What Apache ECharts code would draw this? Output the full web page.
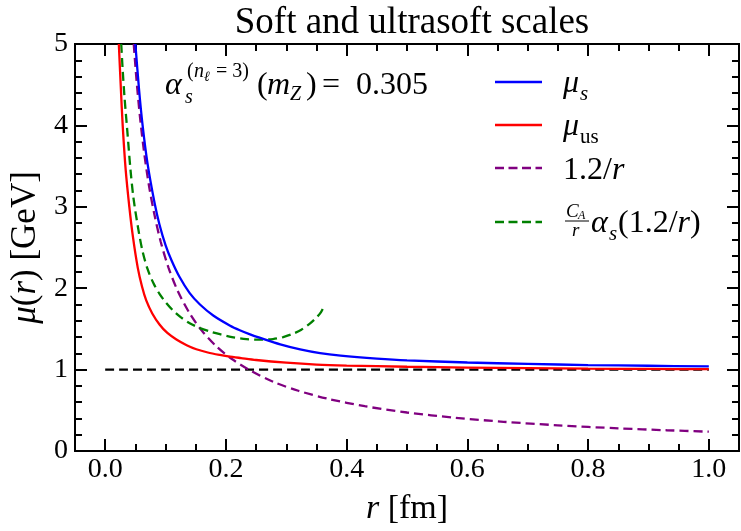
<!DOCTYPE html>
<html><head><meta charset="utf-8">
<script src="https://cdn.jsdelivr.net/npm/echarts@6/dist/echarts.min.js"></script>
<style>html,body{margin:0;padding:0;background:#fff}#c{width:741px;height:531px}</style>
</head><body><div id="c"></div>
<script>
// ---- data ----
const blueR  = [0.050,0.056,0.062,0.070,0.082,0.090,0.100,0.110,0.123,0.140,0.157,0.179,0.207,0.223,0.240,0.257,0.290,0.323,0.356,0.390,0.450,0.500,0.600,0.700,0.800,0.900,1.000];
const blueMu = [5.00,4.45,4.00,3.54,3.04,2.78,2.53,2.34,2.14,1.94,1.80,1.665,1.54,1.484,1.433,1.389,1.31,1.248,1.202,1.172,1.136,1.114,1.087,1.070,1.056,1.047,1.040];
const redR   = [0.0226,0.026,0.029,0.034,0.040,0.046,0.054,0.061,0.068,0.078,0.090,0.103,0.118,0.135,0.151,0.170,0.190,0.204,0.225,0.250,0.300,0.350,0.400,0.500,0.600,0.700,0.800,0.900,1.000];
const redMu  = [5.00,4.45,4.00,3.45,3.00,2.63,2.25,2.02,1.85,1.69,1.555,1.45,1.37,1.30,1.25,1.21,1.18,1.163,1.142,1.118,1.085,1.062,1.05,1.035,1.025,1.018,1.012,1.008,1.005];
const purpleR  = [0.0473,0.052,0.058,0.065,0.073,0.082,0.092,0.105,0.120,0.140,0.160,0.185,0.210,0.240,0.280,0.320,0.370,0.430,0.500,0.580,0.660,0.750,0.850,0.930,1.000];
const purpleMu = [5.00,4.55,4.08,3.64,3.24,2.89,2.57,2.25,1.97,1.69,1.48,1.28,1.13,0.99,0.845,0.74,0.64,0.55,0.473,0.408,0.359,0.316,0.278,0.255,0.237];
const greenR  = [0.0266,0.029,0.032,0.037,0.042,0.047,0.055,0.062,0.070,0.080,0.090,0.100,0.112,0.125,0.140,0.157,0.175,0.190,0.210,0.234,0.255,0.278,0.295,0.311,0.325,0.339,0.350,0.357,0.362];
const greenMu = [5.00,4.68,4.35,3.90,3.45,3.10,2.72,2.45,2.24,2.06,1.93,1.83,1.73,1.645,1.57,1.51,1.465,1.435,1.40,1.375,1.368,1.375,1.40,1.44,1.49,1.565,1.64,1.70,1.77];
const refR  = [0.0, 1.0];
const refMu = [1.0, 1.0];
const xMajorTicks = [0.0,0.2,0.4,0.6,0.8,1.0];
const xMinorTicks = [0.05,0.1,0.15,0.25,0.3,0.35,0.45,0.5,0.55,0.65,0.7,0.75,0.85,0.9,0.95];
const titleText = 'Soft and ultrasoft scales';

const zip = (a,b) => a.map((v,i)=>[v,b[i]]);
const SERIF = '"Liberation Serif", "Times New Roman", serif';
const chart = echarts.init(document.getElementById('c'), null, {renderer:'canvas'});

const axLine = {show:true, onZero:false, lineStyle:{color:'#000', width:2}};
function xAx(pos, ticks, len, labels){
  return {type:'value', position:pos, min:-0.05, max:1.05, gridIndex:0,
    axisLine: axLine, splitLine:{show:false},
    axisTick:{show:true, inside:true, length:len, customValues:ticks, lineStyle:{color:'#000', width:2}},
    axisLabel: labels ? {show:true, customValues:xMajorTicks, formatter:v=>v.toFixed(1), margin:5,
      fontFamily:SERIF, fontSize:28, color:'#000'} : {show:false}
  };
}
function yAx(pos, labels){
  return {type:'value', position:pos, min:0, max:5, interval:1, gridIndex:0,
    axisLine: axLine, splitLine:{show:false},
    axisTick:{show:true, inside:true, length:12, lineStyle:{color:'#000', width:2}},
    minorTick:{show:true, splitNumber:5, length:7, lineStyle:{color:'#000', width:2}},
    axisLabel: labels ? {show:true, margin:7, fontFamily:SERIF, fontSize:28, color:'#000'} : {show:false}
  };
}
const xa0 = xAx('bottom', xMajorTicks, 12, true);
xa0.name = '{i|r} [fm]';
xa0.nameLocation = 'middle';
xa0.nameGap = 41;
xa0.nameTextStyle = {fontFamily:SERIF, fontSize:34, color:'#000', rich:{i:{fontFamily:SERIF, fontSize:34, fontStyle:'italic', color:'#000'}}};
const ya0 = yAx('left', true);
ya0.name = '{i|μ}({i|r}) [GeV]';
ya0.nameLocation = 'middle';
ya0.nameGap = 30;
ya0.nameTextStyle = {fontFamily:SERIF, fontSize:35, color:'#000', rich:{i:{fontFamily:SERIF, fontSize:35, fontStyle:'italic', color:'#000'}}};

function line(data, color, dashed){
  return {type:'line', xAxisIndex:0, yAxisIndex:0, data:data, showSymbol:false, symbol:'none',
    smooth:0.3, clip:true, silent:true,
    lineStyle:{color:color, width:2.3, type: dashed ? [9,5] : 'solid'}};
}

function T(x,y,text,size,italic,extra){
  return Object.assign({type:'text', x:x, y:y, silent:true, style:{text:text, fontFamily:SERIF, fontSize:size,
    fontStyle: italic?'italic':'normal', fill:'#000', align:'left', verticalAlign:'middle'}}, extra||{});
}
function L(x1,x2,y,color,dashed){
  return {type:'line', silent:true, shape:{x1:x1,y1:y,x2:x2,y2:y}, style:{stroke:color, lineWidth:2.3, lineDash: dashed?[9,4.5]:null}};
}
const graphics = [
  // annotation  α_s^{(nℓ=3)}(m_Z) = 0.305
  T(165,86,'α',32,true),
  T(185,98,'s',20,true),
  T(187,72,'(',20,false), T(194,72,'n',20,true), T(204,77,'ℓ',14,true),
  T(216,72,'= 3)',20,false),
  T(257,86,'(',32,false), T(267,86,'m',32,true), T(290,95,'Z',20,true), T(306,86,')',32,false),
  T(322,86,'=',32,false), T(356,86,'0.305',32,false),
  // legend
  L(495,542,82,'#0000ff',false), T(563,84,'μ',32,true), T(580,94,'s',21,true),
  L(495,542,125,'#ff0000',false), T(563,127,'μ',32,true), T(580,137,'us',21,false),
  L(495,542,168,'#800080',true),
  {type:'text', x:563, y:171, silent:true, style:{text:'{n|1.2/}{i|r}', align:'left', verticalAlign:'middle', fill:'#000',
     rich:{n:{fontFamily:SERIF, fontSize:32, fill:'#000'}, i:{fontFamily:SERIF, fontSize:32, fontStyle:'italic', fill:'#000'}}}},
  L(495,542,222,'#008000',true),
  T(566,212,'C',19,true), T(578,216,'A',12,true),
  {type:'line', silent:true, shape:{x1:565,y1:221,x2:589,y2:221}, style:{stroke:'#000', lineWidth:1}},
  T(572,231,'r',19,true),
  T(591,224,'α',32,true), T(609,234,'s',21,true),
  {type:'text', x:618, y:224, silent:true, style:{text:'{n|(1.2/}{i|r}{n|)}', align:'left', verticalAlign:'middle', fill:'#000',
     rich:{n:{fontFamily:SERIF, fontSize:32, fill:'#000'}, i:{fontFamily:SERIF, fontSize:32, fontStyle:'italic', fill:'#000'}}}}
];

chart.setOption({
  animation:false,
  backgroundColor:'#fff',
  title:{text:titleText, left:407, top:0, textAlign:'center',
    textStyle:{fontFamily:SERIF, fontSize:37, fontWeight:'normal', color:'#000'}},
  grid:{left:75, right:2, top:44, bottom:77, containLabel:false},
  xAxis:[xa0, xAx('bottom', xMinorTicks, 7, false), xAx('top', xMajorTicks, 12, false), xAx('top', xMinorTicks, 7, false)],
  yAxis:[ya0, yAx('right', false)],
  series:[
    line(zip(refR, refMu), '#000000', true),
    line(zip(purpleR, purpleMu), '#800080', true),
    line(zip(greenR, greenMu), '#008000', true),
    line(zip(redR, redMu), '#ff0000', false),
    line(zip(blueR, blueMu), '#0000ff', false)
  ],
  graphic: graphics
});
</script>
</body></html>
